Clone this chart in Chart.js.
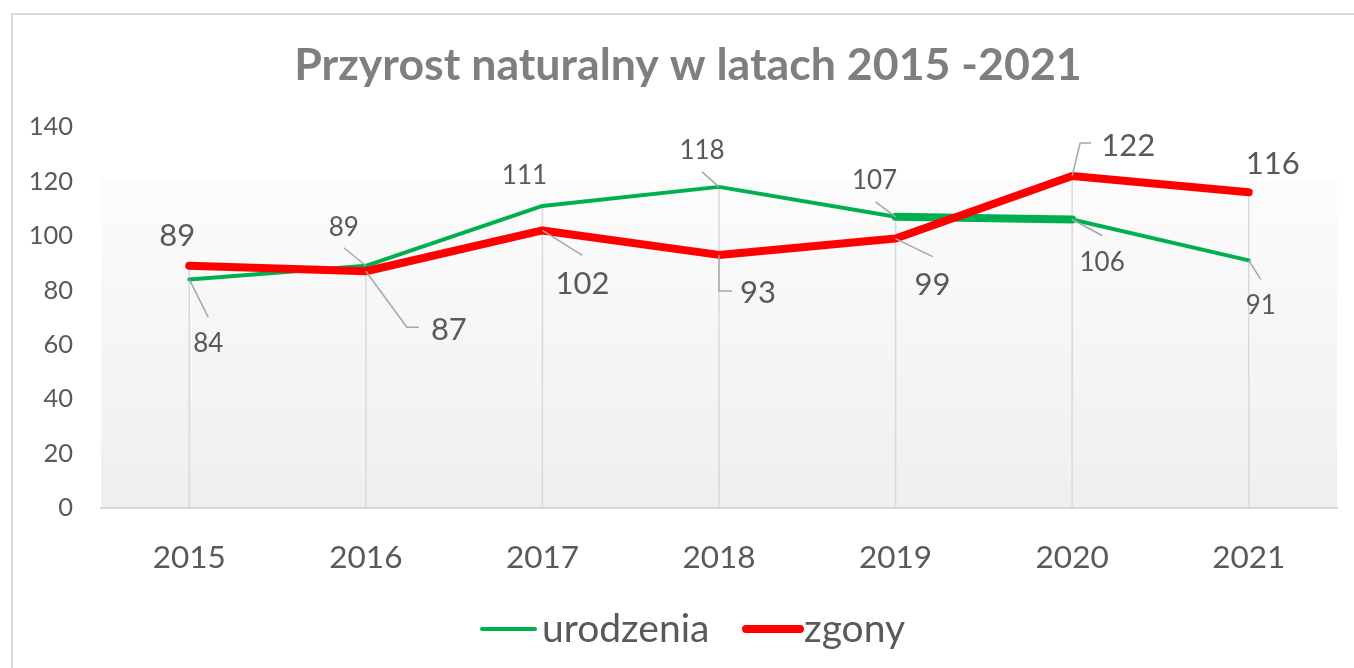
<!DOCTYPE html>
<html><head><meta charset="utf-8">
<script src="https://cdn.jsdelivr.net/npm/chart.js@4.4.0/dist/chart.umd.min.js"></script>
<style>
html,body{margin:0;padding:0;background:#fff;overflow:hidden;}
#wrap{position:relative;width:1354px;height:668px;overflow:hidden;}
#frame{position:absolute;left:11px;top:13px;width:1400px;height:700px;border:2px solid #d9d9d9;box-sizing:border-box;}
#c{position:absolute;left:0;top:0;}
</style></head><body>
<div id="wrap"><div id="frame"></div><canvas id="c" width="1354" height="668"></canvas></div>
<script>
const years = ['2015', '2016', '2017', '2018', '2019', '2020', '2021'];
const urodzenia = [84, 89, 111, 118, 107, 106, 91];
const zgony = [89, 87, 102, 93, 99, 122, 116];
const yTickMin = 0, yTickMax = 140, yTickStep = 20;
const titleText = 'Przyrost naturalny w latach 2015 -2021';

// label placement (offsets from the point, px) and leader line vertices
const urodzeniaLabelOffset = [[19,63],[-22,-39],[-18,-31],[-17,-37],[-21,-37],[30,42],[12,44]];
const urodzeniaLeader = [[[19,38]],[[-22,-18]],null,[[-17,-15]],[[-20,-15]],[[30,16]],[[12,19]]];
const zgonyLabelOffset = [[-12,-31],[83,58],[40,52],[39,37],[37,45],[56,-31],[24,-29]];
const zgonyLeader = [null,[[41,56],[53,56]],[[40,25]],[[0,36],[13,36]],[[37,18]],[[8,-33],[19,-33]],null];

const FONT = 'Lato';
const TEXT = '#595959';

const bgPlugin = {
  id:'bg',
  beforeDraw(chart){
    const {ctx, chartArea:a, scales:{y}} = chart;
    const top = y.getPixelForValue(121);
    const g = ctx.createLinearGradient(0, top, 0, a.bottom);
    g.addColorStop(0, '#fcfcfc');
    g.addColorStop(1, '#efefef');
    ctx.save(); ctx.fillStyle = g;
    ctx.fillRect(a.left, top, a.right - a.left, a.bottom - top);
    ctx.restore();
  }
};

const titlePlugin = {
  id:'ttl',
  afterDraw(chart){
    const ctx = chart.ctx;
    ctx.save();
    ctx.fillStyle = '#7f7f7f';
    ctx.font = 'bold 44.7px ' + FONT;
    ctx.textAlign = 'center'; ctx.textBaseline = 'alphabetic';
    ctx.fillText(titleText, 688, 80);
    ctx.restore();
  }
};

const dropPlugin = {
  id:'drop',
  beforeDatasetsDraw(chart){
    const {ctx, chartArea:a} = chart;
    const m0 = chart.getDatasetMeta(0).data, m1 = chart.getDatasetMeta(1).data;
    ctx.save(); ctx.strokeStyle = '#d9d9d9'; ctx.lineWidth = 1.5;
    for (let i = 0; i < m0.length; i++){
      const x = m0[i].x, top = Math.min(m0[i].y, m1[i].y);
      ctx.beginPath(); ctx.moveTo(x, top); ctx.lineTo(x, a.bottom); ctx.stroke();
    }
    ctx.restore();
  }
};

const labelPlugin = {
  id:'lbls',
  afterDatasetsDraw(chart){
    const ctx = chart.ctx;
    const sets = [
      {meta: chart.getDatasetMeta(0), vals: urodzenia, off: urodzeniaLabelOffset, lead: urodzeniaLeader, size: 26},
      {meta: chart.getDatasetMeta(1), vals: zgony, off: zgonyLabelOffset, lead: zgonyLeader, size: 31}
    ];
    ctx.save();
    sets.forEach(s => {
      s.meta.data.forEach((p, i) => {
        const L = s.lead[i];
        if (L){
          ctx.strokeStyle = '#a6a6a6'; ctx.lineWidth = 1.5;
          ctx.beginPath(); ctx.moveTo(p.x, p.y);
          L.forEach(v => ctx.lineTo(p.x + v[0], p.y + v[1]));
          ctx.stroke();
        }
        ctx.fillStyle = TEXT;
        ctx.font = s.size + 'px ' + FONT;
        ctx.textAlign = 'center'; ctx.textBaseline = 'alphabetic';
        ctx.fillText(String(s.vals[i]), p.x + s.off[i][0], p.y + s.off[i][1] + s.size * 0.36);
      });
    });
    ctx.restore();
  }
};

const legendPlugin = {
  id:'lg',
  afterDraw(chart){
    const ctx = chart.ctx;
    const items = [
      {text:'urodzenia', color:'#00b050', w:4, x0:482, x1:535, tx:542},
      {text:'zgony', color:'#ff0000', w:8, x0:746, x1:800, tx:804}
    ];
    ctx.save();
    items.forEach(it => {
      ctx.strokeStyle = it.color; ctx.lineWidth = it.w; ctx.lineCap = 'round';
      ctx.beginPath(); ctx.moveTo(it.x0, 629); ctx.lineTo(it.x1, 629); ctx.stroke();
      ctx.fillStyle = TEXT; ctx.font = '39px ' + FONT;
      ctx.textAlign = 'left'; ctx.textBaseline = 'alphabetic';
      ctx.fillText(it.text, it.tx, 642);
    });
    ctx.restore();
  }
};

new Chart(document.getElementById('c'), {
  type: 'line',
  data: {
    labels: years,
    datasets: [
      {label:'urodzenia', data: urodzenia, borderColor:'#00b050', borderWidth:4, pointRadius:0,
       borderCapStyle:'round', borderJoinStyle:'round', order:2, tension:0,
       segment:{ borderWidth: c => c.p0DataIndex === 4 ? 8 : 4 }},
      {label:'zgony', data: zgony, borderColor:'#ff0000', borderWidth:8, pointRadius:0,
       borderCapStyle:'round', borderJoinStyle:'round', order:1, tension:0}
    ]
  },
  options: {
    responsive:false, animation:false,
    layout:{ padding:{ left:0, right:17, top:127, bottom:0 } },
    plugins:{
      legend:{ display:false }, tooltip:{ enabled:false }, title:{ display:false }
    },
    scales:{
      x:{ offset:true, grid:{ display:false, drawTicks:false },
          border:{ display:true, color:'#d9d9d9', width:2 },
          ticks:{ color:TEXT, font:{ family:FONT, size:31.5 }, padding:31 },
          afterFit: s => { s.height = 160; } },
      y:{ min:yTickMin, max:yTickMax, grid:{ display:false, drawTicks:false },
          border:{ display:false },
          ticks:{ stepSize:yTickStep, color:TEXT, font:{ family:FONT, size:25.5 }, padding:28 },
          afterFit: s => { s.width = 101; } }
    }
  },
  plugins:[bgPlugin, dropPlugin, labelPlugin, legendPlugin, titlePlugin]
});
</script>
</body></html>
